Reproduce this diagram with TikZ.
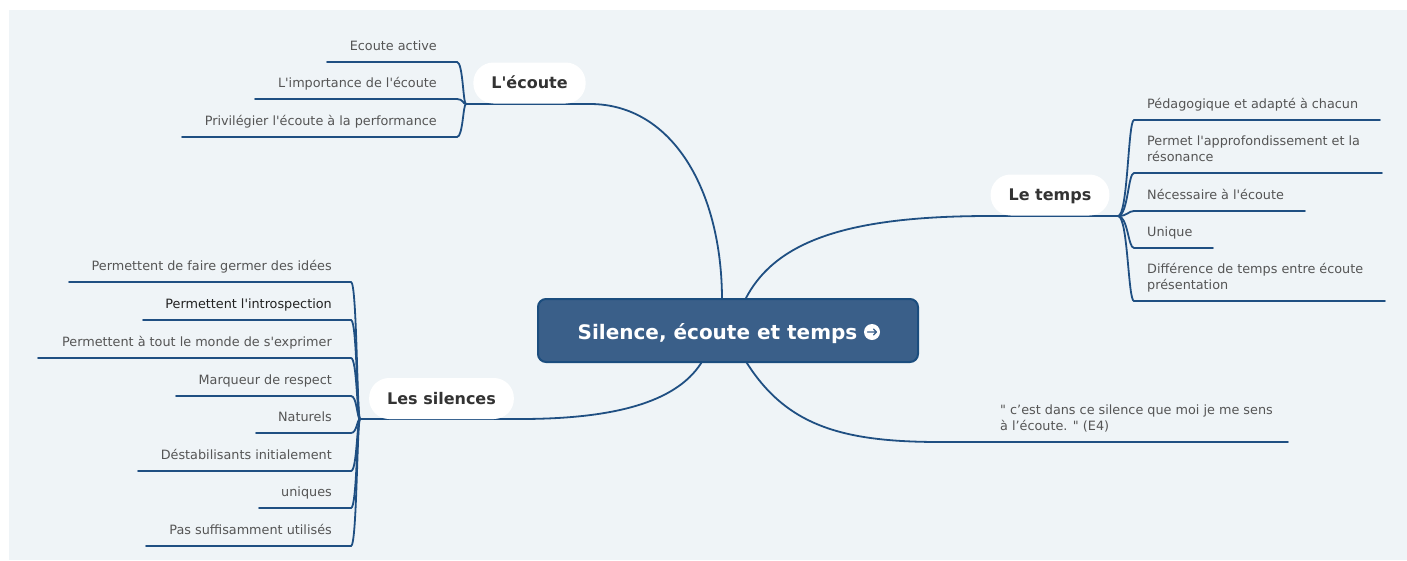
\documentclass[tikz,border=0pt]{standalone}
\usepackage{fontspec}
\setmainfont{DejaVu Sans}[Ligatures=TeXOff]
\usetikzlibrary{calc}
\definecolor{bg}{HTML}{EFF4F7}
\definecolor{ln}{HTML}{1F4F82}
\definecolor{txt}{HTML}{555555}
\definecolor{txtdark}{HTML}{222222}
\definecolor{ttl}{HTML}{333333}
\definecolor{cfill}{HTML}{3A5F89}
\definecolor{cborder}{HTML}{1B4D7E}
\tikzset{
  conn/.style={draw=ln, line width=1.8pt, line cap=round},
  sub/.style={text=txt, font=\fontsize{12.8}{15.5}\selectfont, inner sep=0pt},
  subL/.style={sub, anchor=base east},
  subR/.style={sub, anchor=base west, align=left},
  pill/.style={fill=white, rounded corners=20pt, minimum height=41pt, inner xsep=18pt,
    text=ttl, font=\fontsize{16}{19}\selectfont\bfseries, text height=11.7pt, text depth=0pt},
  central/.style={fill=cfill, draw=cborder, line width=2pt, rounded corners=8pt,
    minimum width=380pt, minimum height=63pt, inner sep=0pt},
  ctitle/.style={text=white, font=\fontsize{20}{24}\selectfont\bfseries, inner sep=0pt, anchor=base}
}
\begin{document}
\begin{tikzpicture}[x=1pt,y=-1pt]
\useasboundingbox (0,0) rectangle (1407,560);
\fill[bg] (9,10) rectangle (1407,560);

% junctions and anchor coordinates
\coordinate (jE) at (466,104);
\coordinate (jT) at (1118,216);
\coordinate (jS) at (360,419);
\coordinate (cN1) at (722,300);
\coordinate (cN2) at (745,300);
\coordinate (cS1) at (703,360);
\coordinate (cS2) at (745,360);
\coordinate (qEnd) at (1288,442);

% main connectors
\draw[conn] (cN1) .. controls (722,190) and (672,104) .. (590,104) -- (jE);
\draw[conn] (cN2) .. controls (775,240) and (850,216) .. (990,216) -- (jT);
\draw[conn] (cS1) .. controls (680,400) and (620,419) .. (520,419) -- (jS);
\draw[conn] (cS2) .. controls (785,425) and (840,442) .. (940,442) -- (qEnd);

% L'ecoute branches
\foreach \n/\y/\xl in {e1/62/327, e2/99/255, e3/137/182}{
  \coordinate (\n u) at (\xl,\y);
  \draw[conn] (jE) .. controls (463,104) and (463,\y) .. (457,\y) -- (\n u);
}
\node[subL] (e1) at (437,50.5) {Ecoute active};
\node[subL] (e2) at (437,87.5) {L'importance de l'écoute};
\node[subL] (e3) at (437,125.5) {Privilégier l'écoute à la performance};

% Le temps branches
\foreach \n/\y/\xr in {t1/120/1380, t2/173/1382, t3/211/1305, t4/248/1213, t5/301/1385}{
  \coordinate (\n u) at (\xr,\y);
  \draw[conn] (jT) .. controls (1128,216) and (1128,\y) .. (1134,\y) -- (\n u);
}
\node[subR] (t1) at (1147,108) {Pédagogique et adapté à chacun};
\node[subR] (t2) at (1147,161) {Permet l'approfondissement et la\\résonance};
\node[subR] (t3) at (1147,199) {Nécessaire à l'écoute};
\node[subR] (t4) at (1147,236) {Unique};
\node[subR] (t5) at (1147,289) {Différence de temps entre écoute\\présentation};

% Les silences branches
\foreach \n/\y/\xl in {s1/282/69, s2/320/143, s3/358/38, s4/396/176, s5/433/256, s6/471/138, s7/508/259, s8/546/146}{
  \coordinate (\n u) at (\xl,\y);
  \draw[conn] (jS) .. controls (357,419) and (357,\y) .. (351,\y) -- (\n u);
}
\node[subL] (s1) at (332,270) {Permettent de faire germer des idées};
\node[subL, text=txtdark] (s2) at (332,308) {Permettent l'introspection};
\node[subL] (s3) at (332,346) {Permettent à tout le monde de s'exprimer};
\node[subL] (s4) at (332,384) {Marqueur de respect};
\node[subL] (s5) at (332,421) {Naturels};
\node[subL] (s6) at (332,459) {Déstabilisants initialement};
\node[subL] (s7) at (332,496) {uniques};
\node[subL] (s8) at (332,534) {Pas suffisamment utilisés};

% quote
\node[subR] (q) at (1000,430) {" c’est dans ce silence que moi je me sens\\à l’écoute. " (E4)};

% pills
\node[pill] (pE) at (529.5,83) {L'écoute};
\node[pill] (pT) at (1050,195) {Le temps};
\node[pill] (pS) at (441.5,398.5) {Les silences};

% central topic
\node[central] (c) at (728,330.5) {};
\node[ctitle] (ct) at (717.5,339) {Silence, écoute et temps};
\node[circle, fill=white, minimum size=16pt, inner sep=0pt] (ic) at (872,332) {};
\draw[cfill, line width=1.2pt, line cap=round, line join=round]
  ($(ic.center)+(-4.5,0)$) -- ($(ic.center)+(4.5,0)$)
  ($(ic.center)+(1.5,-3)$) -- ($(ic.center)+(4.5,0)$) -- ($(ic.center)+(1.5,3)$);
\end{tikzpicture}
\end{document}
